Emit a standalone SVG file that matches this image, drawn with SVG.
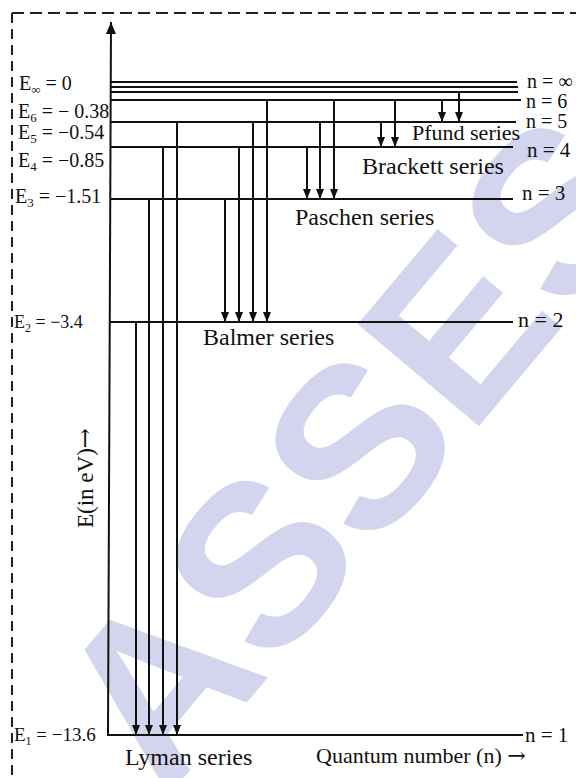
<svg xmlns="http://www.w3.org/2000/svg" width="576" height="778" viewBox="0 0 576 778">
<style>
.t{font-family:"Liberation Serif","Times New Roman",serif;fill:#111}
.lv{stroke:#111;stroke-width:2;fill:none}
.ar{stroke:#111;stroke-width:2;fill:none;marker-end:url(#ah)}
.border{stroke:#222;stroke-width:2;fill:none}
.wm{font-family:"Liberation Sans",Arial,sans-serif;font-weight:bold;fill:#d3d5ee}
</style>
<defs>
<marker id="ah" viewBox="0 0 10 8" refX="10" refY="4" markerWidth="10" markerHeight="8" markerUnits="userSpaceOnUse" orient="auto">
<path d="M0,0 L10,4 L0,8 z" fill="#111"/>
</marker>
<marker id="axh" viewBox="0 0 12 10" refX="12" refY="5" markerWidth="12" markerHeight="10" markerUnits="userSpaceOnUse" orient="auto">
<path d="M0,0 L12,5 L0,10 z" fill="#111"/>
</marker>
</defs>
<rect width="576" height="778" fill="#fff"/>
<g id="watermark">
<text class="wm" font-size="230" transform="translate(165,800) rotate(-50)">ASSES</text>
</g>
<g id="frame">
<line class="border" x1="12" y1="13" x2="576" y2="13" stroke-dasharray="12 6"/>
<line class="border" x1="12" y1="13" x2="12" y2="778" stroke-dasharray="10 6"/>
</g>
<g id="axis">
<line x1="108" y1="736" x2="111" y2="22" stroke="#111" stroke-width="2" marker-end="url(#axh)"/>
<text class="t" font-size="23" transform="translate(93,528) rotate(-90)">E(in eV)<tspan font-family="'DejaVu Serif',serif" font-size="24">→</tspan></text>
</g>
<g id="level-inf">
<line class="lv" x1="111" y1="82" x2="517" y2="82"/>
<line class="lv" x1="111" y1="87" x2="518" y2="87"/>
<line class="lv" x1="111" y1="92" x2="518" y2="92"/>
<text class="t" font-size="20" x="527" y="88">n = ∞</text>
<text class="t" font-size="20" x="19" y="90">E<tspan font-size="13" dy="4">∞</tspan><tspan dy="-4"> = 0</tspan></text>
</g>
<g id="level-6">
<line class="lv" x1="111" y1="100" x2="521" y2="100"/>
<text class="t" font-size="20" x="526" y="108">n = 6</text>
<text class="t" font-size="20" x="18" y="118">E<tspan font-size="13" dy="4">6</tspan><tspan dy="-4"> = − 0.38</tspan></text>
</g>
<g id="level-5">
<line class="lv" x1="111" y1="122" x2="516" y2="122"/>
<text class="t" font-size="20" x="526" y="128">n = 5</text>
<text class="t" font-size="20" x="18" y="139">E<tspan font-size="13" dy="4">5</tspan><tspan dy="-4"> = −0.54</tspan></text>
</g>
<g id="level-4">
<line class="lv" x1="111" y1="147" x2="513" y2="147"/>
<text class="t" font-size="21" x="527" y="157">n = 4</text>
<text class="t" font-size="20" x="18" y="167">E<tspan font-size="13" dy="4">4</tspan><tspan dy="-4"> = −0.85</tspan></text>
</g>
<g id="level-3">
<line class="lv" x1="110" y1="199" x2="513" y2="199"/>
<text class="t" font-size="21" x="522" y="200">n = 3</text>
<text class="t" font-size="20" x="15" y="203">E<tspan font-size="13" dy="4">3</tspan><tspan dy="-4"> = −1.51</tspan></text>
</g>
<g id="level-2">
<line class="lv" x1="110" y1="322" x2="513" y2="322"/>
<text class="t" font-size="22" x="518" y="327">n = 2</text>
<text class="t" font-size="18" x="14" y="328">E<tspan font-size="12" dy="4">2</tspan><tspan dy="-4"> = −3.4</tspan></text>
</g>
<g id="level-1">
<line class="lv" x1="107" y1="735" x2="523" y2="735"/>
<text class="t" font-size="21" x="525" y="742">n = 1</text>
<text class="t" font-size="19" x="14" y="741">E<tspan font-size="12" dy="4">1</tspan><tspan dy="-4"> = −13.6</tspan></text>
</g>
<g id="connectors">
<line class="ar" x1="136" y1="322" x2="136" y2="735"/>
<line class="ar" x1="149" y1="199" x2="149" y2="735"/>
<line class="ar" x1="163" y1="147" x2="163" y2="735"/>
<line class="ar" x1="177" y1="122" x2="177" y2="735"/>
<line class="ar" x1="225" y1="199" x2="225" y2="322"/>
<line class="ar" x1="239" y1="147" x2="239" y2="322"/>
<line class="ar" x1="253" y1="122" x2="253" y2="322"/>
<line class="ar" x1="267" y1="100" x2="267" y2="322"/>
<line class="ar" x1="307" y1="147" x2="307" y2="199"/>
<line class="ar" x1="320" y1="122" x2="320" y2="199"/>
<line class="ar" x1="334" y1="100" x2="334" y2="199"/>
<line class="ar" x1="381" y1="122" x2="381" y2="147"/>
<line class="ar" x1="395" y1="100" x2="395" y2="147"/>
<line class="ar" x1="442" y1="100" x2="442" y2="122"/>
<line class="ar" x1="459" y1="92" x2="459" y2="122"/>
</g>
<g id="series-labels">
<text class="t" font-size="22" x="412" y="140">Pfund series</text>
<text class="t" font-size="24" x="362" y="174">Brackett series</text>
<text class="t" font-size="24" x="295" y="225">Paschen series</text>
<text class="t" font-size="24" x="203" y="345">Balmer series</text>
<text class="t" font-size="24" x="125" y="765">Lyman series</text>
<text class="t" font-size="22" x="316" y="763">Quantum number (n) <tspan font-family="'DejaVu Serif',serif">→</tspan></text>
</g>
</svg>
